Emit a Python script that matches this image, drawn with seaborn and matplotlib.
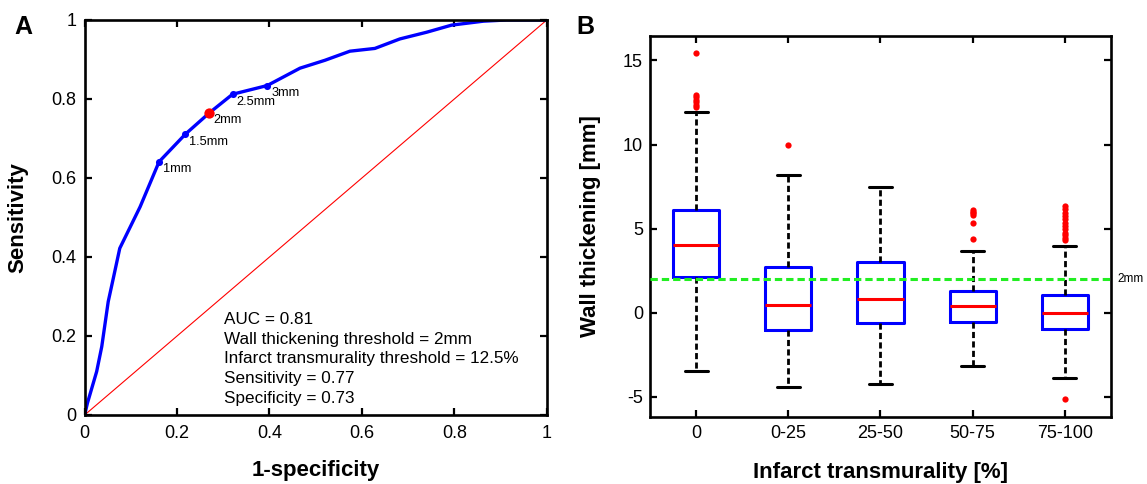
import numpy as np
import pandas as pd
import matplotlib
matplotlib.use("Agg")
import matplotlib.pyplot as plt
import matplotlib.transforms as mtransforms
import seaborn as sns

# ---------------- Panel A: ROC curve ----------------
roc_fpr = [0, 0.006, 0.026, 0.037, 0.051, 0.062, 0.076, 0.12, 0.161, 0.218, 0.27,
           0.32, 0.395, 0.466, 0.52, 0.574, 0.628, 0.682, 0.74, 0.794, 0.863, 0.913, 1.0]
roc_tpr = [0, 0.03, 0.11, 0.173, 0.287, 0.346, 0.422, 0.527, 0.641, 0.711, 0.765,
           0.812, 0.834, 0.878, 0.898, 0.921, 0.928, 0.952, 0.969, 0.987, 0.997, 1.0, 1.0]
thr_labels = ["1mm", "1.5mm", "2mm", "2.5mm", "3mm"]
thr_fpr = [0.161, 0.218, 0.270, 0.320, 0.395]
thr_tpr = [0.641, 0.711, 0.765, 0.812, 0.834]
optimal_label = "2mm"
chance_x = [0, 1]
chance_y = [0, 1]
roc_ticks = [0, 0.2, 0.4, 0.6, 0.8, 1]
roc_tick_labels = ["0", "0.2", "0.4", "0.6", "0.8", "1"]
stats_lines = ["AUC = 0.81",
               "Wall thickening threshold = 2mm",
               "Infarct transmurality threshold = 12.5%",
               "Sensitivity = 0.77",
               "Specificity = 0.73"]

# ---------------- Panel B: box plots ----------------
groups = ["0", "0-25", "25-50", "50-75", "75-100"]
whisker_low = [-3.46, -4.39, -4.21, -3.17, -3.91]
q1 = [2.15, -1.03, -0.59, -0.58, -0.97]
median = [4.01, 0.47, 0.79, 0.39, -0.02]
q3 = [6.09, 2.71, 3.00, 1.29, 1.04]
whisker_high = [11.96, 8.16, 7.45, 3.68, 3.99]
outlier_groups = (["0"] * 7 + ["0-25"] + ["50-75"] * 6 + ["75-100"] * 13)
outlier_values = [15.45, 12.95, 12.8, 12.65, 12.5, 12.35, 12.25,
                  10.0,
                  6.13, 6.0, 5.9, 5.8, 5.33, 4.36,
                  6.35, 6.15, 5.95, 5.75, 5.55, 5.35, 5.15, 4.95, 4.75, 4.6, 4.45, 4.3, -5.15]
threshold_mm = 2
wt_ticks = [-5, 0, 5, 10, 15]

# ---------------- style ----------------
sns.set_style("ticks")
plt.rcParams["font.family"] = ["Liberation Sans", "DejaVu Sans"]
plt.rcParams["axes.unicode_minus"] = False
plt.rcParams["text.color"] = "black"
plt.rcParams["axes.labelcolor"] = "black"
plt.rcParams["xtick.color"] = "black"
plt.rcParams["ytick.color"] = "black"
plt.rcParams["axes.edgecolor"] = "black"

fig = plt.figure(figsize=(11.47, 4.84), dpi=100)
axA = fig.add_axes([0.0738, 0.1426, 0.4029, 0.8161])
axB = fig.add_axes([0.5667, 0.1384, 0.4019, 0.7872])

for ax in (axA, axB):
    for s in ax.spines.values():
        s.set_linewidth(1.9)
        s.set_color("black")
        s.set_visible(True)
    ax.tick_params(direction="in", top=True, right=True, length=5, width=1.6,
                   labelsize=13, colors="black", labelcolor="black")

# ---- Panel A ----
sns.lineplot(x=chance_x, y=chance_y, color="red", linewidth=0.8, ax=axA)
sns.lineplot(x=roc_fpr, y=roc_tpr, sort=False, estimator=None, color="blue",
             linewidth=2.4, ax=axA)
sns.scatterplot(x=thr_fpr, y=thr_tpr, color="blue", s=26, linewidth=0, ax=axA, zorder=4)
oi = thr_labels.index(optimal_label)
sns.scatterplot(x=[thr_fpr[oi]], y=[thr_tpr[oi]], color="red", s=55, linewidth=0,
                ax=axA, zorder=5)
for lab, fx, ty in zip(thr_labels, thr_fpr, thr_tpr):
    axA.annotate(lab, (fx, ty), xytext=(2.9, -5.4), textcoords="offset points",
                 ha="left", va="center", fontsize=9.2, color="black")

axA.set_xlim(0, 1)
axA.set_ylim(0, 1)
axA.set_xticks(roc_ticks)
axA.set_xticklabels(roc_tick_labels)
axA.set_yticks(roc_ticks)
axA.set_yticklabels(roc_tick_labels)
axA.tick_params(axis="y", pad=6)
axA.tick_params(axis="x", pad=7)

y0, dy = 0.2296, 0.0496
for i, line in enumerate(stats_lines):
    axA.text(0.3015, y0 - i * dy, line, fontsize=12.3, ha="left", va="baseline",
             color="black")

axA.set_xlabel("1-specificity", fontsize=16, fontweight="bold")
axA.set_ylabel("Sensitivity", fontsize=16, fontweight="bold")
axA.xaxis.set_label_coords(0.5, -0.115)
axA.yaxis.set_label_coords(-0.121, 0.5)

# ---- Panel B ----
box_df = pd.DataFrame({
    "group": [g for g in groups for _ in range(5)],
    "value": [v for vals in zip(whisker_low, q1, median, q3, whisker_high) for v in vals],
})
out_df = pd.DataFrame({"group": outlier_groups, "value": outlier_values})

sns.boxplot(data=box_df, x="group", y="value", order=groups, whis=(0, 100),
            fill=False, color="blue", width=0.5, linewidth=2, ax=axB,
            boxprops=dict(color="blue", linewidth=2.2),
            medianprops=dict(color="red", linewidth=2.2),
            whiskerprops=dict(color="black", linewidth=2.0, linestyle=(0, (2.2, 1.2))),
            capprops=dict(color="black", linewidth=2.2))
axB.axhline(threshold_mm, color="#22ee22", linewidth=2.2, linestyle=(0, (2.4, 1.3)), zorder=4)
sns.stripplot(data=out_df, x="group", y="value", order=groups, jitter=False,
              color="red", size=4.5, linewidth=0, ax=axB, zorder=6)

axB.set_xlim(-0.5, 4.5)
axB.set_ylim(-6.2, 16.45)
axB.set_yticks(wt_ticks)
axB.set_yticklabels([str(t) for t in wt_ticks])
axB.tick_params(axis="y", pad=5)
axB.tick_params(axis="x", pad=6)
trans = mtransforms.blended_transform_factory(axB.transAxes, axB.transData)
axB.text(1.015, threshold_mm, f"{threshold_mm}mm", transform=trans, ha="left",
         va="center", fontsize=8.5, clip_on=False, color="black")

axB.set_xlabel("Infarct transmurality [%]", fontsize=16, fontweight="bold")
axB.set_ylabel("Wall thickening [mm]", fontsize=16, fontweight="bold")
axB.xaxis.set_label_coords(0.5, -0.118)
axB.yaxis.set_label_coords(-0.106, 0.5)

fig.text(23 / 1147, 1 - 27 / 484, "A", fontsize=18, fontweight="bold", ha="center", va="center")
fig.text(585 / 1147, 1 - 27 / 484, "B", fontsize=18, fontweight="bold", ha="center", va="center")

fig.savefig("out.png", dpi=100)
